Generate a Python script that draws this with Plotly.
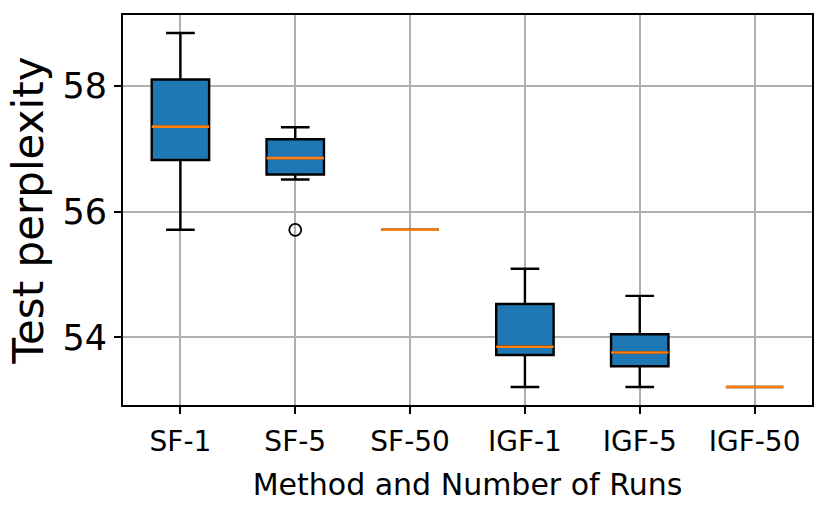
import plotly.graph_objects as go

# box statistics
methods = ["SF-1", "SF-5", "SF-50", "IGF-1", "IGF-5", "IGF-50"]
positions = [1, 2, 3, 4, 5, 6]
q1_vals = [56.82, 56.59, 55.71, 53.72, 53.54, 53.21]
median_vals = [57.35, 56.85, 55.71, 53.85, 53.76, 53.21]
q3_vals = [58.10, 57.15, 55.71, 54.53, 54.05, 53.21]
lower_whiskers = [55.71, 56.51, 55.71, 53.21, 53.21, 53.21]
upper_whiskers = [58.84, 57.34, 55.71, 55.09, 54.66, 53.21]

# fliers (method index -> value)
outlier_pos = [2]
outlier_vals = [55.71]

box_width = 0.5
font_family = "DejaVu Sans"

fig = go.Figure()

for i in range(len(methods)):
    fig.add_trace(go.Box(
        x=[positions[i]],
        q1=[q1_vals[i]],
        median=[median_vals[i]],
        q3=[q3_vals[i]],
        lowerfence=[lower_whiskers[i]],
        upperfence=[upper_whiskers[i]],
        width=box_width,
        whiskerwidth=0.5,
        fillcolor="#1f77b4",
        line=dict(color="black", width=2.4),
        boxpoints=False,
        showlegend=False,
        hoverinfo="skip",
    ))

# orange median lines on top, like matplotlib
for i in range(len(methods)):
    fig.add_trace(go.Scatter(
        x=[positions[i] - box_width / 2, positions[i] + box_width / 2],
        y=[median_vals[i], median_vals[i]],
        mode="lines",
        line=dict(color="#ff7f0e", width=2.6),
        showlegend=False,
        hoverinfo="skip",
    ))

fig.add_trace(go.Scatter(
    x=outlier_pos,
    y=outlier_vals,
    mode="markers",
    marker=dict(symbol="circle-open", size=12, color="black", line=dict(width=1.8)),
    showlegend=False,
    hoverinfo="skip",
))

fig.update_layout(
    width=831,
    height=519,
    paper_bgcolor="white",
    plot_bgcolor="white",
    boxmode="overlay",
    margin=dict(l=123, r=19, t=15, b=114),
    font=dict(family=font_family, color="black"),
)

fig.update_xaxes(
    range=[0.5, 6.5],
    tickvals=positions,
    ticktext=methods,
    tickfont=dict(size=28),
    ticks="outside",
    ticklen=7,
    tickwidth=1.8,
    tickcolor="black",
    ticklabelstandoff=3,
    showgrid=True,
    gridcolor="#b0b0b0",
    gridwidth=1.6,
    showline=True,
    linecolor="black",
    linewidth=2,
    mirror=True,
    zeroline=False,
    title=dict(text="Method and Number of Runs", font=dict(size=30), standoff=17),
)

fig.update_yaxes(
    range=[52.925, 59.125],
    tickvals=[54, 56, 58],
    tickfont=dict(size=35),
    ticks="outside",
    ticklen=7,
    tickwidth=1.8,
    tickcolor="black",
    showgrid=True,
    gridcolor="#b0b0b0",
    gridwidth=1.6,
    showline=True,
    linecolor="black",
    linewidth=2,
    mirror=True,
    zeroline=False,
    title=dict(text="Test perplexity", font=dict(size=42), standoff=6),
)

fig.write_html("out.html", config={"displayModeBar": False},
               post_script="document.body.style.margin='0';")
